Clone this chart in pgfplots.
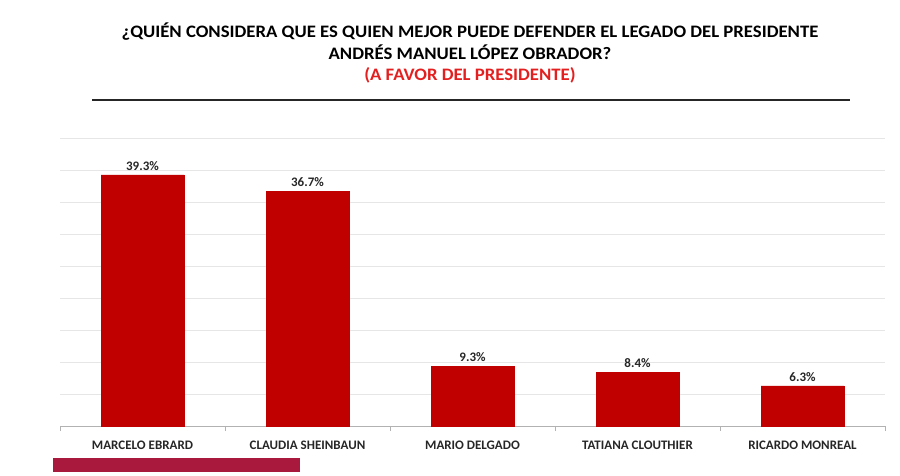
\documentclass[border=0pt]{standalone}
\usepackage{pgfplots}
\pgfplotsset{compat=1.18}
\usepackage{fontspec}
\setmainfont{Carlito}
\newfontfamily\titlefont[FakeStretch=1.07]{Carlito}
\definecolor{barred}{HTML}{C00000}
\definecolor{titlered}{HTML}{E3201F}
\definecolor{deco}{HTML}{A8193D}
\definecolor{gridc}{HTML}{E6E6E6}
\begin{document}
\begin{tikzpicture}[x=1pt,y=1pt]
\useasboundingbox (0,0) rectangle (900,475);
\node[font=\titlefont\bfseries\fontsize{17.5}{20}\selectfont] at (470,443) {¿QUIÉN CONSIDERA QUE ES QUIEN MEJOR PUEDE DEFENDER EL LEGADO DEL PRESIDENTE};
\node[font=\titlefont\bfseries\fontsize{17.5}{20}\selectfont] at (470,423) {ANDRÉS MANUEL LÓPEZ OBRADOR?};
\node[font=\titlefont\bfseries\fontsize{17.5}{20}\selectfont, text=titlered] at (470,400) {(A FAVOR DEL PRESIDENTE)};
\draw[line width=1.5pt, black!85] (92,375) -- (850,375);
\fill[deco] (53,3) rectangle (300,17);
\begin{axis}[
  at={(60pt,49pt)}, anchor=south west,
  scale only axis, width=825pt, height=287.5pt,
  xmin=-0.5, xmax=4.5, ymin=0, ymax=45,
  axis x line*=bottom, axis y line*=left,
  x axis line style={draw=black!30},
  y axis line style={draw=none},
  ybar, bar width=83pt,
  xtick={0,1,2,3,4},
  xticklabels={MARCELO EBRARD, CLAUDIA SHEINBAUN, MARIO DELGADO, TATIANA CLOUTHIER, RICARDO MONREAL},
  xticklabel style={font=\bfseries\fontsize{13}{14}\selectfont, text=black!85, anchor=center, yshift=-15pt},
  major x tick style={draw=none},
  minor xtick={-0.5,0.5,1.5,2.5,3.5,4.5},
  minor x tick style={draw=black!30},
  tick align=outside, minor tick length=5pt,
  ytick={0,5,...,45}, yticklabels={},
  ytick style={draw=none},
  ymajorgrids, grid style={gridc, line width=0.8pt},
  /pgf/number format/assume math mode=true,
  nodes near coords={\pgfmathprintnumber[fixed,precision=1,fixed zerofill]{\pgfplotspointmeta}\%},
  every node near coord/.append style={font=\bfseries\fontsize{13}{14}\selectfont, text=black!85, yshift=1pt},
  clip=false,
]
\addplot[fill=barred, draw=barred] coordinates {(0,39.3) (1,36.7) (2,9.3) (3,8.4) (4,6.3)};
\end{axis}
\end{tikzpicture}
\end{document}
